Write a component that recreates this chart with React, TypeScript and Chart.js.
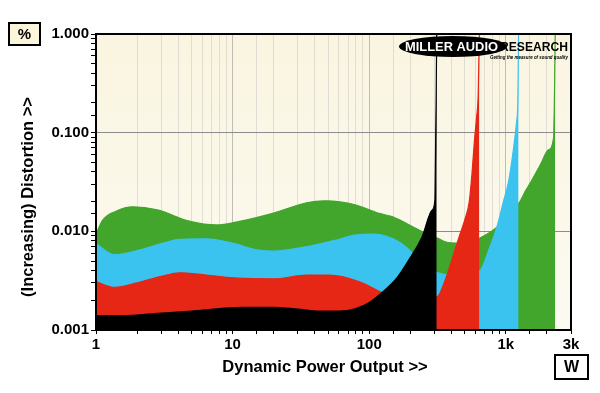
import React, { useEffect, useRef } from "react";
import { Chart, registerables } from "chart.js";

Chart.register(...registerables);

// ---- Data (power in W, distortion in %) ----
const blackW = [1, 1.4, 2, 3, 5, 8, 12, 20, 30, 45, 60, 80, 100, 124, 160, 196, 244, 288, 303, 312];
const blackPct = [0.0014, 0.0014, 0.00142, 0.00148, 0.00155, 0.00165, 0.0017, 0.0017, 0.00163, 0.00155, 0.00155, 0.00165, 0.0019, 0.0024, 0.0034, 0.0052, 0.0088, 0.0164, 0.021, 1.0];

const redW = [1, 1.37, 2, 3, 4.1, 6.4, 11, 20, 35, 51, 84, 124, 160, 220, 318, 350, 385, 420, 455, 500, 540, 565, 590, 610, 628, 640];
const redPct = [0.0031, 0.0027, 0.003, 0.0035, 0.0038, 0.0036, 0.00335, 0.0033, 0.0036, 0.0036, 0.0031, 0.0024, 0.0021, 0.002, 0.0022, 0.0029, 0.0042, 0.0062, 0.0088, 0.013, 0.02, 0.038, 0.085, 0.14, 0.25, 1.0];

const cyanW = [1, 1.37, 2.1, 3, 4.1, 6.4, 10, 15, 20, 35, 54, 80, 105, 147, 196, 244, 318, 400, 500, 646, 751, 860, 960, 1052, 1140, 1200, 1225, 1240];
const cyanPct = [0.0075, 0.0058, 0.0065, 0.0075, 0.0083, 0.0084, 0.0076, 0.0065, 0.0063, 0.007, 0.008, 0.0092, 0.0094, 0.0085, 0.0065, 0.0045, 0.0038, 0.0036, 0.0037, 0.004, 0.0065, 0.011, 0.02, 0.033, 0.07, 0.13, 0.21, 1.0];

const greenW = [1, 1.12, 1.4, 1.86, 2.8, 4.9, 7.6, 11.2, 19.6, 34.7, 48, 80, 118, 147, 245, 318, 365, 455, 540, 640, 860, 1000, 1250, 1400, 1550, 1800, 2050, 2240, 2300];
const greenPct = [0.0094, 0.013, 0.016, 0.0177, 0.0165, 0.0126, 0.0116, 0.0126, 0.0152, 0.0195, 0.0204, 0.0185, 0.0152, 0.0141, 0.0099, 0.0085, 0.0078, 0.0076, 0.0078, 0.0085, 0.011, 0.014, 0.0194, 0.026, 0.033, 0.048, 0.067, 0.09, 1.0];

const xTickLabels: Record<number, string> = { 1: "1", 10: "10", 100: "100", 1000: "1k", 3000: "3k" };
const yTickLabels: Record<number, string> = { 1: "1.000", 0.1: "0.100", 0.01: "0.010", 0.001: "0.001" };

const yTitle = "(Increasing) Distortion >>";
const xTitle = "Dynamic Power Output >>";
const yUnit = "%";
const xUnit = "W";

const FONT = '"Liberation Sans", Arial, sans-serif';

const pts = (xs: number[], ys: number[]) => xs.map((x, i) => ({ x, y: ys[i] }));

const isDecade = (v: number) => {
  const l = Math.log10(v);
  return Math.abs(l - Math.round(l)) < 1e-6;
};

const decor = {
  id: "decor",
  beforeDraw(chart: any) {
    const { ctx, chartArea: a } = chart;
    ctx.save();
    ctx.fillStyle = "#ffffff";
    ctx.fillRect(0, 0, chart.width, chart.height);
    const g = ctx.createLinearGradient(0, a.top, 0, a.bottom);
    g.addColorStop(0, "#faf5e0");
    g.addColorStop(1, "#fcfaf1");
    ctx.fillStyle = g;
    ctx.fillRect(a.left, a.top, a.right - a.left, a.bottom - a.top);
    ctx.restore();
  },
  afterDraw(chart: any) {
    const { ctx, chartArea: a } = chart;
    ctx.save();
    // plot border
    ctx.strokeStyle = "#000";
    ctx.lineWidth = 2;
    ctx.strokeRect(a.left, a.top, a.right - a.left, a.bottom - a.top);

    // axis titles
    ctx.fillStyle = "#000";
    ctx.font = `bold 16.5px ${FONT}`;
    ctx.textAlign = "center";
    ctx.textBaseline = "middle";
    ctx.fillText(xTitle, 325, 367);
    ctx.save();
    ctx.translate(28, 197);
    ctx.rotate(-Math.PI / 2);
    ctx.fillText(yTitle, 0, 0);
    ctx.restore();

    // unit boxes
    ctx.lineWidth = 2;
    ctx.fillStyle = "#fbf5dc";
    ctx.fillRect(9, 23, 31, 22);
    ctx.strokeRect(9, 23, 31, 22);
    ctx.fillStyle = "#000";
    ctx.font = `bold 15px ${FONT}`;
    ctx.fillText(yUnit, 24.5, 34.5);

    ctx.fillStyle = "#ffffff";
    ctx.fillRect(555, 355, 33, 24);
    ctx.strokeRect(555, 355, 33, 24);
    ctx.fillStyle = "#000";
    ctx.font = `bold 16px ${FONT}`;
    ctx.fillText(xUnit, 571.5, 367.5);

    // logo
    ctx.fillStyle = "#000";
    ctx.beginPath();
    ctx.ellipse(453, 46.5, 54, 10.5, 0, 0, Math.PI * 2);
    ctx.fill();
    ctx.fillStyle = "#fff";
    ctx.font = `900 13px ${FONT}`;
    ctx.textAlign = "left";
    ctx.fillText("MILLER AUDIO", 405, 47, 93);
    ctx.fillStyle = "#000";
    ctx.fillText("RESEARCH", 500, 47, 68);
    ctx.font = `italic bold 5px ${FONT}`;
    ctx.fillText("Getting the measure of sound quality", 490, 57.5, 78);
    ctx.restore();
  },
};

function makeDs(label: string, xs: number[], ys: number[], color: string) {
  return {
    label,
    data: pts(xs, ys),
    borderColor: color,
    backgroundColor: color,
    borderWidth: 1.2,
    pointRadius: 0,
    fill: "start",
    cubicInterpolationMode: "monotone",
  };
}

export default function App() {
  const ref = useRef<HTMLCanvasElement | null>(null);
  useEffect(() => {
    document.body.style.margin = "0";
    if (!ref.current) return;
    const chart = new Chart(ref.current, {
      type: "line",
      data: {
        datasets: [
          makeDs("black", blackW, blackPct, "#000000"),
          makeDs("red", redW, redPct, "#e62716"),
          makeDs("cyan", cyanW, cyanPct, "#3ac3ef"),
          makeDs("green", greenW, greenPct, "#41a62b"),
        ] as any,
      },
      options: {
        responsive: false,
        animation: false,
        devicePixelRatio: 1,
        layout: { padding: { top: 34, right: 29, left: 0, bottom: 0 } },
        plugins: { legend: { display: false }, tooltip: { enabled: false } },
        scales: {
          x: {
            type: "logarithmic",
            min: 1,
            max: 3000,
            position: "bottom",
            z: 1,
            border: { display: false },
            grid: {
              color: (c: any) => (c.tick && isDecade(c.tick.value) ? "rgba(150,150,150,0.6)" : "rgba(190,190,190,0.45)"),
              lineWidth: 1,
              tickColor: "#000",
              tickLength: 4,
              drawTicks: true,
            },
            ticks: {
              autoSkip: false,
              maxRotation: 0,
              color: "#000",
              padding: 2,
              font: { family: FONT, size: 15, weight: "bold" },
              callback: (v: any) => xTickLabels[Number(v)] ?? "",
            },
            afterFit: (s: any) => {
              s.height = 63;
            },
          },
          y: {
            type: "logarithmic",
            min: 0.001,
            max: 1,
            position: "left",
            border: { display: false },
            grid: {
              color: (c: any) => {
                const v = c.tick ? c.tick.value : 0;
                return isDecade(v) && v > 0.001 && v < 1 ? "#8c8c8c" : "rgba(0,0,0,0)";
              },
              tickColor: "#000",
              tickLength: 5,
              drawTicks: true,
            },
            ticks: {
              autoSkip: false,
              color: "#000",
              padding: 2,
              font: { family: FONT, size: 15, weight: "bold" },
              callback: (v: any) => {
                const n = Number(v);
                for (const k of Object.keys(yTickLabels)) {
                  if (Math.abs(Number(k) - n) / n < 1e-6) return yTickLabels[Number(k)];
                }
                return "";
              },
            },
            afterFit: (s: any) => {
              s.width = 96;
            },
          },
        },
      } as any,
      plugins: [decor],
    });
    return () => chart.destroy();
  }, []);
  return (
    <div style={{ position: "fixed", left: 0, top: 0, width: 600, height: 393 }}>
      <canvas ref={ref} width={600} height={393} style={{ width: 600, height: 393, display: "block" }} />
    </div>
  );
}
